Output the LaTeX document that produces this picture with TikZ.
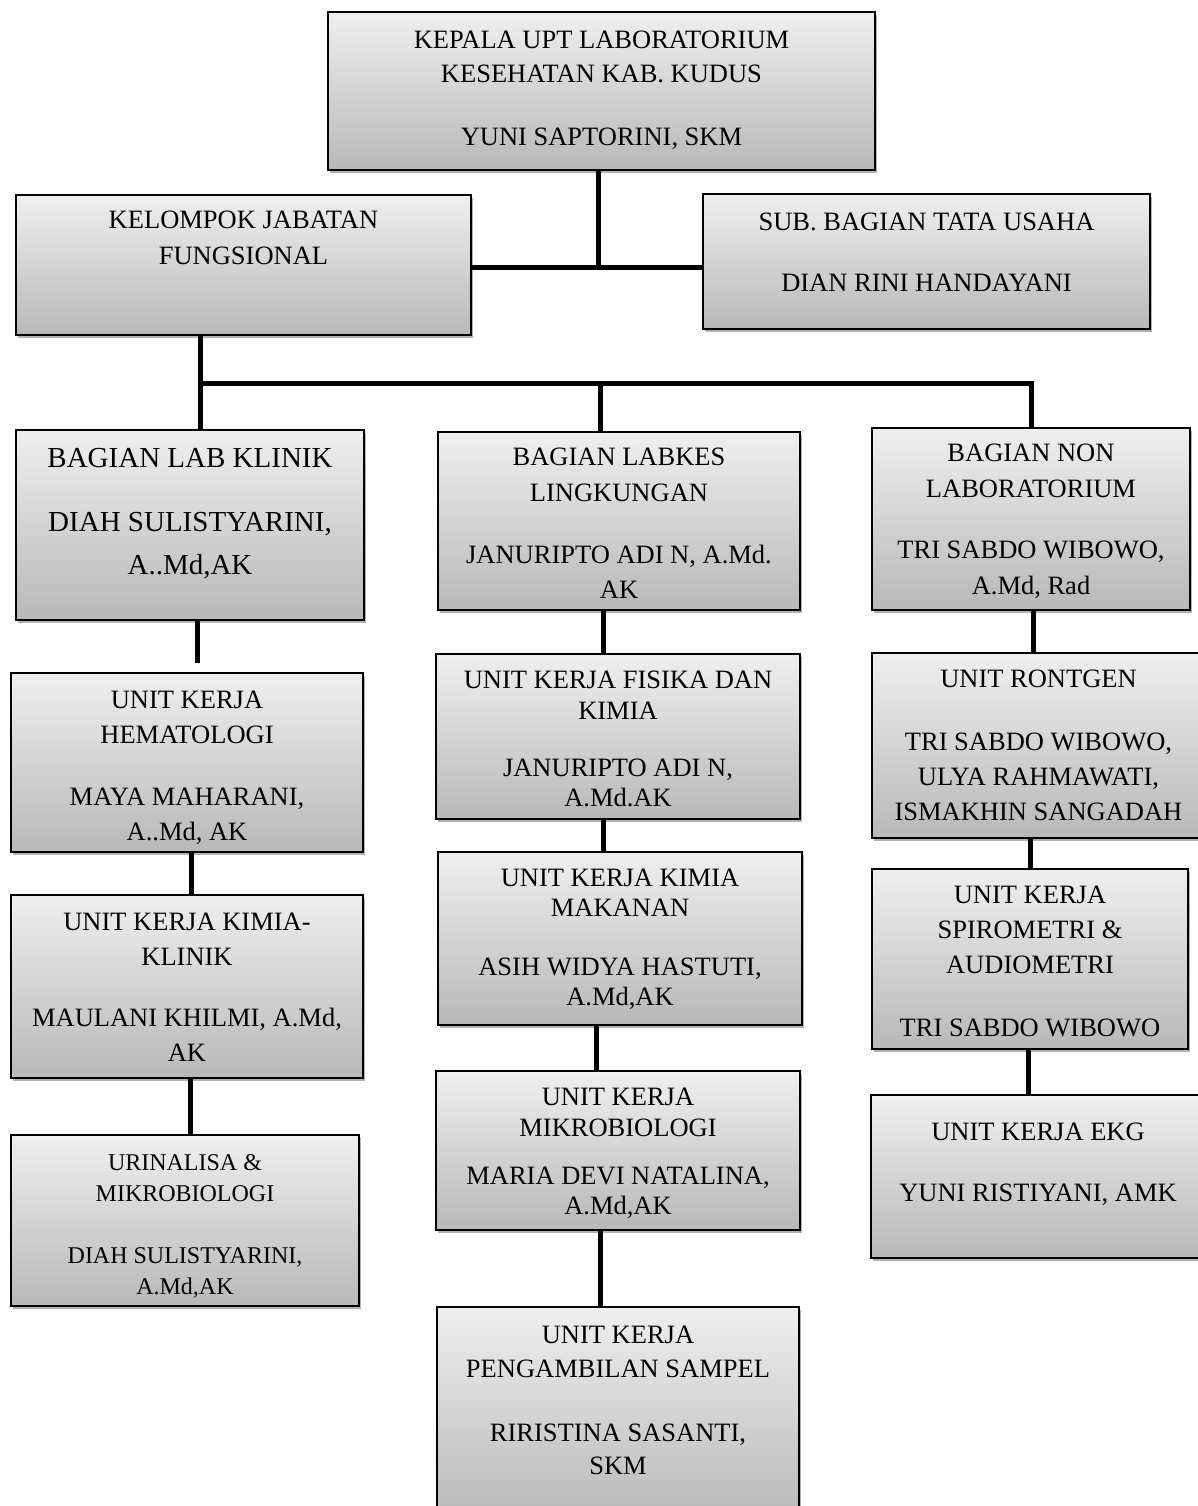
\documentclass[tikz,border=0pt]{standalone}
\usepackage{fontspec}
\setmainfont{Liberation Serif}
\usetikzlibrary{shadows}
\definecolor{boxtop}{RGB}{239,239,239}
\definecolor{boxbot}{RGB}{184,184,184}
\tikzset{
  obox/.style={draw=black, line width=1.6pt, top color=boxtop, bottom color=boxbot,
    inner sep=0pt, outer sep=0pt,
    drop shadow={shadow xshift=1.5pt, shadow yshift=-3pt, opacity=0.3, fill=black}},
  btxt/.style={align=center, inner sep=0pt, text=black},
  conn/.style={line width=5pt, draw=black},
}
\newcommand{\boxnode}[5]{%
  \pgfmathsetmacro{\bw}{#4-#2}\pgfmathsetmacro{\bh}{#5-#3}%
  \node[obox, minimum width=\bw pt, minimum height=\bh pt, anchor=north west] (#1) at (#2,#3) {};}
\newcommand{\btext}[5]{%
  \node[btxt, font=\fontsize{#3}{#4}\selectfont, anchor=north] (#1t) at (#1.north |- 0,#2) {#5};}
\begin{document}
\begin{tikzpicture}[x=1pt,y=-1pt]
\useasboundingbox (0,0) rectangle (1197,1506);
\fill[white] (0,0) rectangle (1197,1506);

% boxes
\boxnode{kepala}{328}{12}{875}{170}
\boxnode{kjf}{16}{195}{471}{335}
\boxnode{sub}{703}{194}{1150}{329}
\boxnode{lab}{16}{430}{364}{620}
\boxnode{labkes}{438}{432}{800}{610}
\boxnode{nonlab}{872}{428}{1190}{610}
\boxnode{hema}{11}{673}{363}{852}
\boxnode{fisika}{436}{654}{800}{819}
\boxnode{rontgen}{872}{653}{1205}{838}
\boxnode{kimkli}{11}{895}{363}{1078}
\boxnode{makanan}{438}{852}{802}{1025}
\boxnode{spiro}{872}{869}{1188}{1049}
\boxnode{urin}{11}{1135}{359}{1306}
\boxnode{mikro}{436}{1071}{800}{1230}
\boxnode{ekg}{871}{1095}{1205}{1258}
\boxnode{sampel}{437}{1307}{799}{1520}

% texts
\btext{kepala}{31}{26.5}{34}{KEPALA UPT LABORATORIUM\\KESEHATAN KAB. KUDUS\\[29pt]YUNI SAPTORINI, SKM}
\btext{kjf}{211}{26.5}{36}{KELOMPOK JABATAN\\FUNGSIONAL}
\btext{sub}{213}{26.5}{35}{SUB. BAGIAN TATA USAHA\\[26pt]DIAN RINI HANDAYANI}
\btext{lab}{448}{29}{43}{BAGIAN LAB KLINIK\\[21pt]DIAH SULISTYARINI,\\A..Md,AK}
\btext{labkes}{448}{26.5}{35.5}{BAGIAN LABKES\\LINGKUNGAN\\[26.5pt]JANURIPTO ADI N, A.Md.\\AK}
\btext{nonlab}{444}{26.5}{36}{BAGIAN NON\\LABORATORIUM\\[25pt]TRI SABDO WIBOWO,\\A.Md, Rad}
\btext{hema}{691}{26.5}{35}{UNIT KERJA\\HEMATOLOGI\\[27pt]MAYA MAHARANI,\\A..Md, AK}
\btext{fisika}{671}{26.5}{30.5}{UNIT KERJA FISIKA DAN\\KIMIA\\[26.5pt]JANURIPTO ADI N,\\A.Md.AK}
\btext{rontgen}{670}{26.5}{35}{UNIT RONTGEN\\[28pt]TRI SABDO WIBOWO,\\ULYA RAHMAWATI,\\ISMAKHIN SANGADAH}
\btext{kimkli}{913}{26.5}{35}{UNIT KERJA KIMIA-\\KLINIK\\[26pt]MAULANI KHILMI, A.Md,\\AK}
\btext{makanan}{869}{26.5}{30}{UNIT KERJA KIMIA\\MAKANAN\\[29pt]ASIH WIDYA HASTUTI,\\A.Md,AK}
\btext{spiro}{886}{26.5}{35}{UNIT KERJA\\SPIROMETRI \&\\AUDIOMETRI\\[28pt]TRI SABDO WIBOWO}
\btext{urin}{1154}{24}{31}{URINALISA \&\\MIKROBIOLOGI\\[31pt]DIAH SULISTYARINI,\\A.Md,AK}
\btext{mikro}{1088}{26.5}{30.5}{UNIT KERJA\\MIKROBIOLOGI\\[17.5pt]MARIA DEVI NATALINA,\\A.Md,AK}
\btext{ekg}{1123}{26.5}{35}{UNIT KERJA EKG\\[26pt]YUNI RISTIYANI, AMK}
\btext{sampel}{1326}{26.5}{33.5}{UNIT KERJA\\PENGAMBILAN SAMPEL\\[30.5pt]RIRISTINA SASANTI,\\SKM}

% connectors
\coordinate (jtop) at (598,267);
\draw[conn] (kepala.south -| jtop) -- (jtop);
\draw[conn] (kjf.east |- jtop) -- (sub.west |- jtop);
\coordinate (jl) at (200,383);
\coordinate (jm) at (600,383);
\coordinate (jr) at (1031,383);
\draw[conn] (kjf.south -| jl) -- (lab.north -| jl);
\draw[conn] (jl) -- (jr) -- (nonlab.north -| jr);
\draw[conn] (jm) -- (labkes.north -| jm);
\draw[conn, shorten >=10pt] (lab.south -| 197,0) -- (hema.north -| 197,0);
\draw[conn] (hema.south -| 191,0) -- (kimkli.north -| 191,0);
\draw[conn] (kimkli.south -| 190,0) -- (urin.north -| 190,0);
\draw[conn] (labkes.south -| 603,0) -- (fisika.north -| 603,0);
\draw[conn] (fisika.south -| 603,0) -- (makanan.north -| 603,0);
\draw[conn] (makanan.south -| 596,0) -- (mikro.north -| 596,0);
\draw[conn] (mikro.south -| 600,0) -- (sampel.north -| 600,0);
\draw[conn] (nonlab.south -| 1033,0) -- (rontgen.north -| 1033,0);
\draw[conn] (rontgen.south -| 1030,0) -- (spiro.north -| 1030,0);
\draw[conn] (spiro.south -| 1028,0) -- (ekg.north -| 1028,0);
\end{tikzpicture}
\end{document}
